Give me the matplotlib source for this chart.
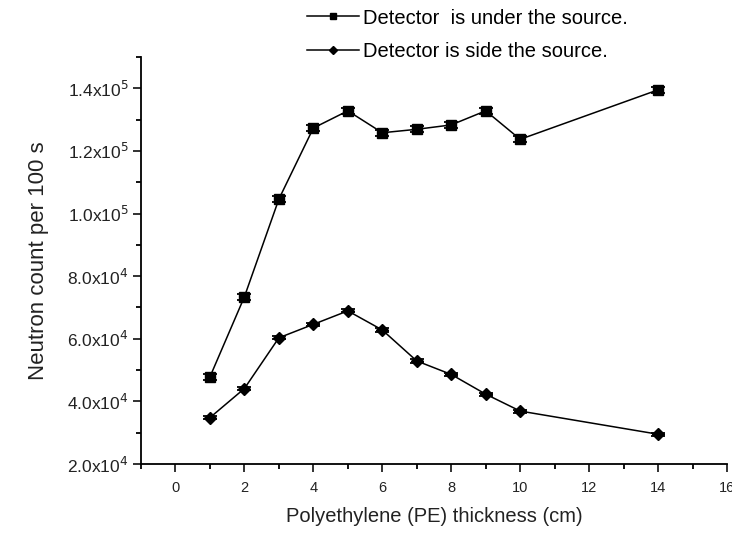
import numpy as np
import matplotlib.pyplot as plt
from matplotlib.lines import Line2D
from matplotlib.ticker import MultipleLocator, FuncFormatter

plt.rcParams['font.family'] = ['Liberation Sans', 'DejaVu Sans']

thickness = [1, 2, 3, 4, 5, 6, 7, 8, 9, 10, 14]
under = [47800, 73400, 104600, 127300, 132800, 125800, 126900, 128300, 132800, 123700, 139500]
side = [34800, 44100, 60300, 64600, 68900, 62800, 52900, 48600, 42300, 36900, 29500]
under_err = [900] * len(thickness)
side_err = [500] * len(thickness)
labels = ['Detector  is under the source.', 'Detector is side the source.']

fig = plt.figure(figsize=(7.32, 5.33), dpi=100)
ax = fig.add_axes([0.1926, 0.1295, 0.8006, 0.7636])

ax.errorbar(thickness, under, yerr=under_err, color='black', lw=1.1, marker='s', ms=7,
            capsize=5, capthick=1.3, elinewidth=1.3)
ax.errorbar(thickness, side, yerr=side_err, color='black', lw=1.1, marker='D', ms=6,
            capsize=5, capthick=1.3, elinewidth=1.3)

ax.set_xlim(-1, 16)
ax.set_ylim(20000, 150000)
ax.xaxis.set_major_locator(MultipleLocator(2))
ax.xaxis.set_minor_locator(MultipleLocator(1))
ax.yaxis.set_major_locator(MultipleLocator(20000))
ax.yaxis.set_minor_locator(MultipleLocator(10000))


def sci(v, pos):
    if v <= 0:
        return ''
    e = int(np.floor(np.log10(v) + 1e-9))
    return '%.1fx10$^{%d}$' % (v / 10 ** e, e)


ax.yaxis.set_major_formatter(FuncFormatter(sci))

for s in ['top', 'right']:
    ax.spines[s].set_visible(False)
for s in ['left', 'bottom']:
    ax.spines[s].set_linewidth(1.3)
ax.tick_params(which='major', length=6, width=1.3, colors='#222222')
ax.tick_params(which='minor', length=3.5, width=1.3)
ax.tick_params(axis='y', labelsize=12.5, pad=3)
ax.tick_params(axis='x', labelsize=10.5, pad=6)

ax.set_xlabel('Polyethylene (PE) thickness (cm)', fontsize=14.5, color='#222222', labelpad=9)
ax.set_ylabel('Neutron count per 100 s', fontsize=16, color='#222222', labelpad=13)

handles = [Line2D([], [], color='black', lw=1.1, marker='s', ms=5),
           Line2D([], [], color='black', lw=1.1, marker='D', ms=4)]
fig.legend(handles, labels, loc='upper left', bbox_to_anchor=(0.419, 0.984), frameon=False,
           fontsize=14.5, handlelength=2.6, labelspacing=0.7, handletextpad=0.2,
           borderpad=0, borderaxespad=0)

fig.savefig('out.png', dpi=100)
